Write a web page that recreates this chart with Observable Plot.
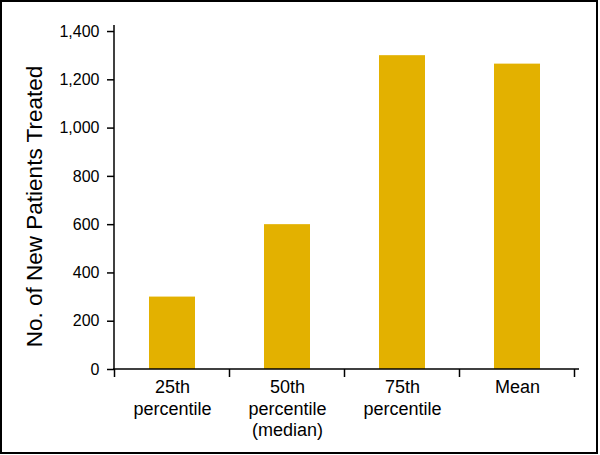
<!DOCTYPE html>
<html><head><meta charset="utf-8">
<script src="https://cdn.jsdelivr.net/npm/d3@7"></script>
<script src="https://cdn.jsdelivr.net/npm/@observablehq/plot@0.6"></script>
<style>
body{margin:0;background:#fff;}
#chart svg{display:block;border:2px solid #000;}
</style></head><body><div id="chart"></div>
<script>
const categories = ["25th percentile", "50th percentile (median)", "75th percentile", "Mean"];
const tickLabels = ["25th\npercentile", "50th\npercentile\n(median)", "75th\npercentile", "Mean"];
const values = [300, 600, 1300, 1265];
const yTicks = [0, 200, 400, 600, 800, 1000, 1200, 1400];
const yLabel = "No. of New Patients Treated";

const data = categories.map((c, i) => ({category: c, value: values[i]}));
const labelOf = new Map(categories.map((c, i) => [c, tickLabels[i]]));

const axisLines = (index, scales, vals, dims) => {
  const ns = "http://www.w3.org/2000/svg";
  const g = document.createElementNS(ns, "g");
  const x = scales.x, y = scales.y;
  const step = x(categories[1]) - x(categories[0]);
  const bw = x.bandwidth ? x.bandwidth() : step * 0.4;
  const line = (x1, y1, x2, y2) => {
    const l = document.createElementNS(ns, "line");
    l.setAttribute("x1", x1); l.setAttribute("y1", y1);
    l.setAttribute("x2", x2); l.setAttribute("y2", y2);
    l.setAttribute("stroke", "#000"); l.setAttribute("stroke-width", 1.5);
    g.appendChild(l);
  };
  const y0 = y(0);
  line(dims.marginLeft, dims.marginTop, dims.marginLeft, y0);
  line(dims.marginLeft - 1, y0, dims.width - dims.marginRight + 5, y0);
  const bounds = categories.map(c => x(c) + bw / 2 - step / 2);
  bounds.push(x(categories[categories.length - 1]) + bw / 2 + step / 2);
  bounds.forEach(b => line(b, y0, b, y0 + 8));
  return g;
};

const chart = Plot.plot({
  width: 594, height: 450,
  marginLeft: 112, marginRight: 22, marginTop: 23, marginBottom: 83,
  style: {fontFamily: "'Liberation Sans', Arial, sans-serif", fontSize: "16px", color: "#000", background: "#fff"},
  x: {domain: categories, paddingInner: 0.6, paddingOuter: 0.3, label: null},
  y: {domain: [0, 1425], label: null},
  marks: [
    Plot.barY(data, {x: "category", y: "value", fill: "#e3b100"}),
    Plot.axisY({ticks: yTicks, tickFormat: d => d3.format(",")(d), tickSize: 7, tickPadding: 8, fontSize: 16, label: null, strokeWidth: 1.5}),
    Plot.axisX({tickSize: 0, tickPadding: 9, tickFormat: d => labelOf.get(d), lineHeight: 1.17, fontSize: 18, label: null}),
    Plot.text([yLabel], {frameAnchor: "left", textAnchor: "middle", rotate: -90, dx: -80, dy: 9, fontSize: 22.5, text: d => d}),
    axisLines
  ]
});
document.getElementById("chart").appendChild(chart);
</script></body></html>
